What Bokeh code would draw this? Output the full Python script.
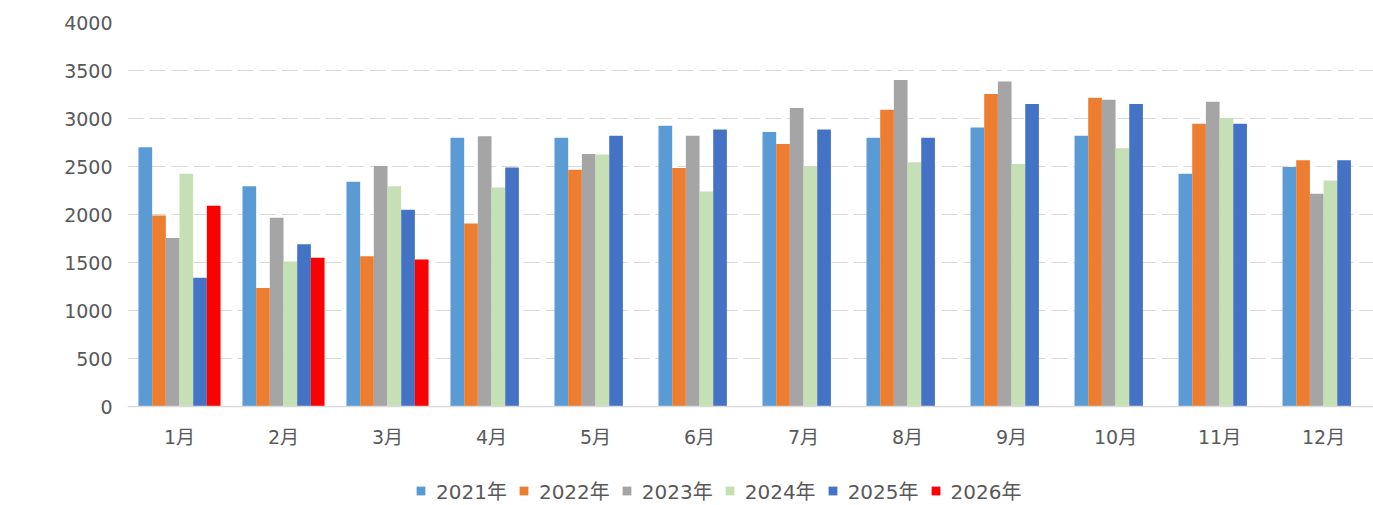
from bokeh.plotting import figure
from bokeh.models import ColumnDataSource, Range1d, FixedTicker, Legend, LegendItem
from bokeh.transform import dodge
from bokeh.embed import file_html
from bokeh.resources import INLINE

months = ["1月", "2月", "3月", "4月", "5月", "6月", "7月", "8月", "9月", "10月", "11月", "12月"]
years = ["2021年", "2022年", "2023年", "2024年", "2025年", "2026年"]

y2021 = [2700, 2295, 2340, 2800, 2800, 2925, 2860, 2800, 2905, 2820, 2425, 2495]
y2022 = [1990, 1235, 1565, 1905, 2465, 2485, 2735, 3090, 3255, 3215, 2945, 2565]
y2023 = [1755, 1965, 2505, 2815, 2630, 2820, 3110, 3400, 3385, 3195, 3175, 2215]
y2024 = [2425, 1510, 2295, 2280, 2625, 2240, 2505, 2545, 2525, 2690, 3005, 2355]
y2025 = [1340, 1690, 2050, 2490, 2820, 2885, 2885, 2800, 3150, 3150, 2945, 2565]
y2026 = [2090, 1550, 1530]

colors = ["#5B9BD5", "#ED7D31", "#A5A5A5", "#C5E0B4", "#4472C4", "#FF0000"]
series = [y2021, y2022, y2023, y2024, y2025, y2026]

FONT = "DejaVu Sans, Noto Sans CJK SC"
TXT = "#595959"

p = figure(width=1373, height=505, output_backend="svg", toolbar_location=None,
           x_range=Range1d(0, 11.98), y_range=Range1d(-1031.25, 4000),
           min_border_left=127, min_border_right=0, min_border_top=22, min_border_bottom=0)
p.outline_line_color = None

bw = 0.1315
items = []
for j, (yr, vals, c) in enumerate(zip(years, series, colors)):
    src = ColumnDataSource(dict(x=[i + 0.5 for i in range(len(vals))], top=vals))
    r = p.vbar(x=dodge("x", (j - 2.5) * bw, range=p.x_range), top="top", bottom=0, width=bw,
               source=src, fill_color=c, line_color=None)
    items.append(LegendItem(label=yr, renderers=[r]))

p.xaxis.ticker = FixedTicker(ticks=[i + 0.5 for i in range(12)])
p.xaxis.major_label_overrides = {i + 0.5: m for i, m in enumerate(months)}
p.xaxis.fixed_location = 0
p.yaxis.ticker = FixedTicker(ticks=list(range(0, 4001, 500)))

for ax in (p.xaxis, p.yaxis):
    ax.major_tick_line_color = None
    ax.minor_tick_line_color = None
    ax.major_tick_out = 0
    ax.major_tick_in = 0
    ax.minor_tick_out = 0
    ax.minor_tick_in = 0
    ax.major_label_text_font = FONT
    ax.major_label_text_font_size = "19px"
    ax.major_label_text_color = TXT
p.yaxis.axis_line_color = None
p.yaxis.major_label_standoff = 15
p.xaxis.axis_line_color = "#D9D9D9"
p.xaxis.axis_line_width = 1.5
p.xaxis.major_label_standoff = 19

p.xgrid.grid_line_color = None
p.ygrid.grid_line_color = "#D9D9D9"
p.ygrid.grid_line_dash = "16 6"
p.ygrid.grid_line_width = 1.2

legend = Legend(items=items, orientation="horizontal", location=(288, 0),
                glyph_width=11, glyph_height=11, label_standoff=10, spacing=11,
                label_text_font=FONT, label_text_font_size="20px", label_text_color=TXT,
                padding=0, margin=0, border_line_color=None, background_fill_alpha=0)
p.add_layout(legend, "center")

open("out.html", "w").write(file_html(p, INLINE))
